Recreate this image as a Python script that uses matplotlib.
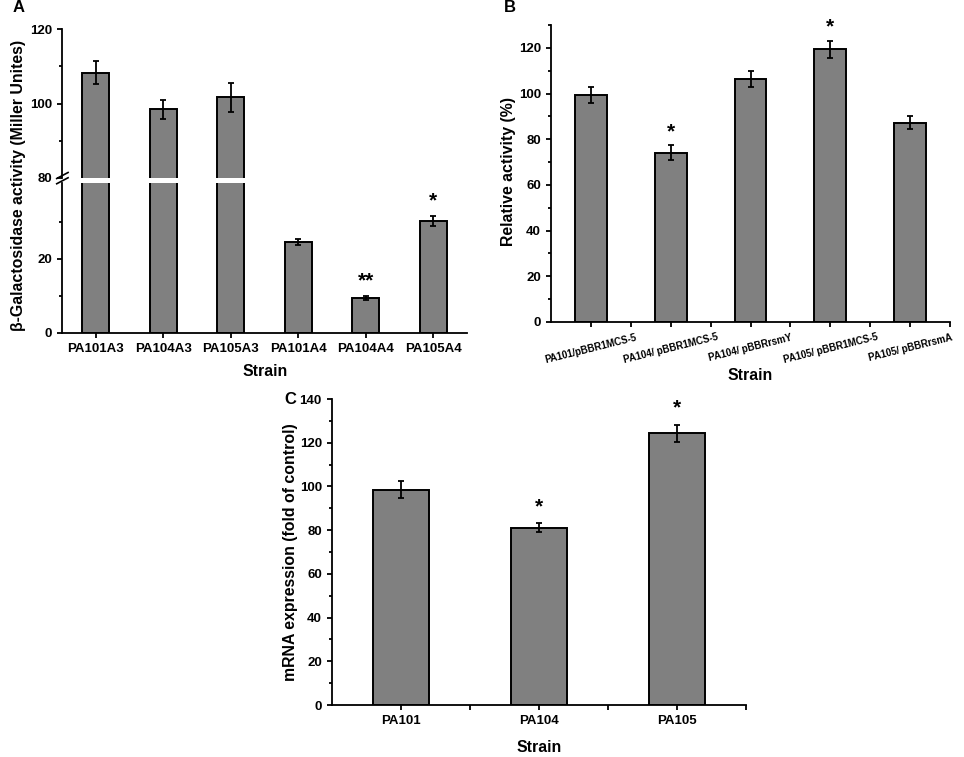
import matplotlib
matplotlib.use("Agg")
import matplotlib.pyplot as plt
import numpy as np
from matplotlib.ticker import MultipleLocator, FixedLocator

plt.rcParams['font.family'] = ['Liberation Sans', 'DejaVu Sans']
plt.rcParams['font.weight'] = 'bold'
plt.rcParams['axes.labelweight'] = 'bold'

# ---------------- data ----------------
a_labels = ["PA101A3", "PA104A3", "PA105A3", "PA101A4", "PA104A4", "PA105A4"]
a_values = [108.3, 98.4, 101.7, 24.6, 9.5, 30.3]
a_errors = [3.0, 2.5, 3.9, 0.9, 0.5, 1.3]
a_sig = ["", "", "", "", "**", "*"]

b_labels = ["PA101/pBBR1MCS-5", "PA104/ pBBR1MCS-5", "PA104/ pBBRrsmY",
            "PA105/ pBBR1MCS-5", "PA105/ pBBRrsmA"]
b_values = [99.2, 74.0, 106.5, 119.3, 87.3]
b_errors = [3.5, 3.3, 3.5, 3.6, 3.0]
b_sig = ["", "*", "", "*", ""]

c_labels = ["PA101", "PA104", "PA105"]
c_values = [98.5, 81.1, 124.3]
c_errors = [3.8, 2.1, 3.8]
c_sig = ["", "*", "*"]

# ---------------- style ----------------
BAR_COLOR = "#808080"
EDGE_LW = 1.4
SPINE_LW = 1.3
BAR_W = 0.4
TICK_FS = 9.5
LABEL_FS = 11.4
PANEL_FS = 12
STAR_FS = 15

W, H = 964, 757
fig = plt.figure(figsize=(W / 100, H / 100), dpi=100)


def px_axes(x0, y0, x1, y1):
    return fig.add_axes([x0 / W, 1 - y1 / H, (x1 - x0) / W, (y1 - y0) / H])


def style(ax):
    for s in ("top", "right"):
        ax.spines[s].set_visible(False)
    for s in ("left", "bottom"):
        ax.spines[s].set_linewidth(SPINE_LW)
    ax.tick_params(which="major", direction="out", length=3.8, width=SPINE_LW,
                   labelsize=TICK_FS)
    ax.tick_params(which="minor", direction="out", length=2.4, width=SPINE_LW)
    for t in ax.get_xticklabels() + ax.get_yticklabels():
        t.set_fontweight("bold")


def draw_bars(ax, x, vals, errs):
    ax.bar(x, vals, width=BAR_W, color=BAR_COLOR, edgecolor="black",
           linewidth=EDGE_LW, zorder=2)
    ax.errorbar(x, vals, yerr=errs, fmt="none", ecolor="black",
                elinewidth=1.3, capsize=2.4, capthick=1.3, zorder=3)


def draw_stars(ax, x, vals, errs, sig, offset):
    for xi, v, e, s in zip(x, vals, errs, sig):
        if s:
            ax.annotate(s, (xi, v + e), xytext=(0, offset),
                        textcoords="offset points", ha="center", va="center",
                        fontsize=STAR_FS, fontweight="bold", zorder=4,
                        annotation_clip=False)


# ---------------- Panel A (broken axis) ----------------
xa = np.arange(len(a_labels))
axA_top = px_axes(62, 29, 467, 178)
axA_bot = px_axes(62, 183, 467, 333)
for ax in (axA_top, axA_bot):
    draw_bars(ax, xa, a_values, a_errors)
    style(ax)
    ax.set_xlim(-0.5, len(a_labels) - 0.5)

axA_top.set_ylim(80, 120)
axA_top.yaxis.set_major_locator(FixedLocator([80, 100, 120]))
axA_top.yaxis.set_minor_locator(FixedLocator([90, 110]))
axA_top.spines["bottom"].set_visible(False)
axA_top.tick_params(axis="x", which="both", bottom=False, labelbottom=False)

axA_bot.set_ylim(0, 40.5)
axA_bot.yaxis.set_major_locator(FixedLocator([0, 20]))
axA_bot.yaxis.set_minor_locator(FixedLocator([10, 30]))
axA_bot.set_xticks(xa)
axA_bot.set_xticklabels(a_labels, fontweight="bold")

draw_stars(axA_bot, xa, a_values, a_errors, a_sig, 11)

# break marks on the y axis
for dy in (0.0, 0.035):
    axA_bot.plot([-0.013, 0.015], [1.0 + dy - 0.005, 1.0 + dy + 0.035],
                 transform=axA_bot.transAxes, color="black", lw=1.2,
                 clip_on=False)

fig.text(19 / W, 1 - 185 / H, "β-Galactosidase activity (Miller Unites)",
         rotation=90, ha="center", va="center", fontsize=LABEL_FS,
         fontweight="bold")
fig.text(265 / W, 1 - 372 / H, "Strain", ha="center", va="center",
         fontsize=LABEL_FS, fontweight="bold")
fig.text(19 / W, 1 - 8 / H, "A", ha="center", va="center",
         fontsize=PANEL_FS, fontweight="bold")

# ---------------- Panel B ----------------
xb = np.arange(len(b_labels))
axB = px_axes(551, 25, 950, 322)
draw_bars(axB, xb, b_values, b_errors)
style(axB)
axB.set_xlim(-0.5, len(b_labels) - 0.5)
axB.set_ylim(0, 130)
axB.yaxis.set_major_locator(MultipleLocator(20))
axB.yaxis.set_minor_locator(MultipleLocator(10))
axB.set_xticks(xb)
axB.xaxis.set_minor_locator(FixedLocator(xb + 0.5))
axB.tick_params(axis="x", which="minor", length=3.8)
axB.set_xticklabels(b_labels, rotation=14, ha="center", fontsize=7.0,
                    fontweight="bold")
draw_stars(axB, xb, b_values, b_errors, b_sig, 10)
fig.text(509 / W, 1 - 171 / H, "Relative activity (%)", rotation=90,
         ha="center", va="center", fontsize=LABEL_FS, fontweight="bold")
fig.text(750 / W, 1 - 375 / H, "Strain", ha="center", va="center",
         fontsize=LABEL_FS, fontweight="bold")
fig.text(510 / W, 1 - 8 / H, "B", ha="center", va="center",
         fontsize=PANEL_FS, fontweight="bold")

# ---------------- Panel C ----------------
xc = np.arange(len(c_labels))
axC = px_axes(332, 399, 746, 705)
draw_bars(axC, xc, c_values, c_errors)
style(axC)
axC.set_xlim(-0.5, len(c_labels) - 0.5)
axC.set_ylim(0, 140)
axC.yaxis.set_major_locator(MultipleLocator(20))
axC.yaxis.set_minor_locator(MultipleLocator(10))
axC.set_xticks(xc)
axC.xaxis.set_minor_locator(FixedLocator(xc + 0.5))
axC.tick_params(axis="x", which="minor", length=3.8)
axC.set_xticklabels(c_labels, fontweight="bold")
draw_stars(axC, xc, c_values, c_errors, c_sig, 12)
fig.text(291 / W, 1 - 552 / H, "mRNA expression (fold of control)",
         rotation=90, ha="center", va="center", fontsize=LABEL_FS,
         fontweight="bold")
fig.text(539 / W, 1 - 747 / H, "Strain", ha="center", va="center",
         fontsize=LABEL_FS, fontweight="bold")
fig.text(290 / W, 1 - 399 / H, "C", ha="center", va="center",
         fontsize=PANEL_FS, fontweight="bold")

fig.savefig("out.png", dpi=100)
